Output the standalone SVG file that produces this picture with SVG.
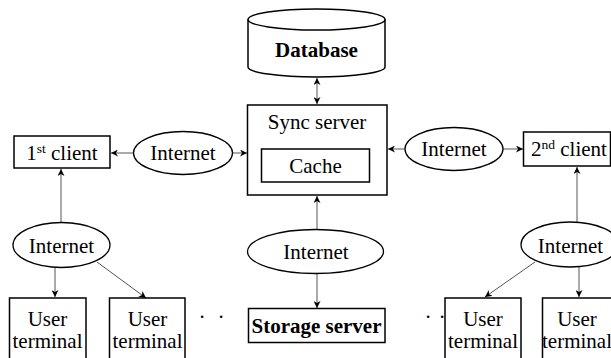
<svg xmlns="http://www.w3.org/2000/svg" width="611" height="358" viewBox="0 0 611 358">
  <style>
    .box { fill: #fff; stroke: #000; stroke-width: 1.5; }
    .net { fill: #fff; stroke: #000; stroke-width: 1.3; }
    .lbl { font-family: 'Liberation Serif', 'Times New Roman', serif; font-size: 21px; fill: #000; text-anchor: middle; }
    .bold { font-weight: bold; }
    .sup { font-size: 13.5px; }
    .link { fill: none; stroke: #555; stroke-width: 1; }
  </style>
  <defs>
    <marker id="tip" viewBox="0 0 10 10" refX="10" refY="5" markerWidth="7" markerHeight="7" markerUnits="userSpaceOnUse" orient="auto-start-reverse">
      <path d="M0,0 L10,5 L0,10 L3,5 Z" fill="#000"/>
    </marker>
  </defs>
  <rect width="611" height="358" fill="#fff"/>

  <!-- connectors -->
  <g id="connectors">
    <line class="link" x1="317" y1="78" x2="317" y2="104" marker-start="url(#tip)" marker-end="url(#tip)"/>
    <line class="link" x1="133" y1="153" x2="111" y2="153" marker-end="url(#tip)"/>
    <line class="link" x1="232" y1="153" x2="247" y2="153" marker-end="url(#tip)"/>
    <line class="link" x1="405" y1="149" x2="388" y2="149" marker-end="url(#tip)"/>
    <line class="link" x1="503" y1="149" x2="523" y2="149" marker-end="url(#tip)"/>
    <line class="link" x1="61" y1="222" x2="61" y2="169" marker-end="url(#tip)"/>
    <line class="link" x1="577" y1="222" x2="577" y2="167" marker-end="url(#tip)"/>
    <line class="link" x1="317" y1="229" x2="317" y2="196" marker-end="url(#tip)"/>
    <line class="link" x1="317" y1="273" x2="317" y2="308" marker-end="url(#tip)"/>
    <line class="link" x1="55" y1="267" x2="55" y2="297" marker-end="url(#tip)"/>
    <line class="link" x1="97" y1="262" x2="146" y2="298" marker-end="url(#tip)"/>
    <line class="link" x1="535" y1="262" x2="485" y2="297" marker-end="url(#tip)"/>
    <line class="link" x1="579" y1="266" x2="579" y2="297" marker-end="url(#tip)"/>
  </g>

  <g id="database">
    <path class="box" d="M248,19.5 L248,67 A68.5,10 0 0 0 385,67 L385,19.5"/>
    <ellipse class="box" cx="316.5" cy="19.5" rx="68.5" ry="10.5"/>
    <text class="lbl bold" x="316.5" y="57">Database</text>
  </g>

  <g id="sync-server">
    <rect class="box" x="247.5" y="105" width="139.5" height="90"/>
    <text class="lbl" x="317" y="129">Sync server</text>
  </g>

  <g id="cache">
    <rect class="box" x="261.5" y="149" width="108" height="33"/>
    <text class="lbl" x="315.5" y="172.5">Cache</text>
  </g>

  <g id="client-1">
    <rect class="box" x="14" y="136" width="96" height="32"/>
    <text class="lbl" x="62" y="159.5">1<tspan class="sup" dy="-7">st</tspan><tspan dy="7"> client</tspan></text>
  </g>

  <g id="client-2">
    <rect class="box" x="523.5" y="132" width="87" height="34"/>
    <text class="lbl" x="569" y="156">2<tspan class="sup" dy="-7">nd</tspan><tspan dy="7"> client</tspan></text>
  </g>

  <g id="internet-left">
    <ellipse class="net" cx="183" cy="153" rx="49.5" ry="21.5"/>
    <text class="lbl" x="183" y="160">Internet</text>
  </g>

  <g id="internet-right">
    <ellipse class="net" cx="454" cy="149" rx="49" ry="21.5"/>
    <text class="lbl" x="454" y="156">Internet</text>
  </g>

  <g id="internet-lower-left">
    <ellipse class="net" cx="61.5" cy="245" rx="48.5" ry="22.5"/>
    <text class="lbl" x="61.5" y="253">Internet</text>
  </g>

  <g id="internet-center">
    <ellipse class="net" cx="315.5" cy="251.5" rx="68" ry="22"/>
    <text class="lbl" x="316" y="259">Internet</text>
  </g>

  <g id="internet-lower-right">
    <ellipse class="net" cx="570" cy="244.5" rx="49" ry="22.5"/>
    <text class="lbl" x="570.5" y="253">Internet</text>
  </g>

  <g id="storage-server">
    <rect class="box" x="248.5" y="308.5" width="136.5" height="34"/>
    <text class="lbl bold" x="316.5" y="333">Storage server</text>
  </g>

  <g id="terminal-1">
    <rect class="box" x="9.5" y="298" width="76.5" height="70"/>
    <text class="lbl" x="47.5" y="326">User</text>
    <text class="lbl" x="47.5" y="348">terminal</text>
  </g>

  <g id="terminal-2">
    <rect class="box" x="109.5" y="298" width="75.5" height="70"/>
    <text class="lbl" x="147.5" y="326">User</text>
    <text class="lbl" x="147.5" y="348">terminal</text>
  </g>

  <g id="terminal-3">
    <rect class="box" x="445" y="298" width="76" height="70"/>
    <text class="lbl" x="483" y="326">User</text>
    <text class="lbl" x="483" y="348">terminal</text>
  </g>

  <g id="terminal-4">
    <rect class="box" x="542.5" y="298" width="76" height="70"/>
    <text class="lbl" x="577" y="326">User</text>
    <text class="lbl" x="577" y="348">terminal</text>
  </g>

  <!-- ellipsis marks between terminals -->
  <text class="lbl" x="202" y="318"><tspan x="202">.</tspan><tspan x="221">.</tspan></text>
  <text class="lbl" x="428" y="318"><tspan x="428">.</tspan><tspan x="442">.</tspan></text>
</svg>
